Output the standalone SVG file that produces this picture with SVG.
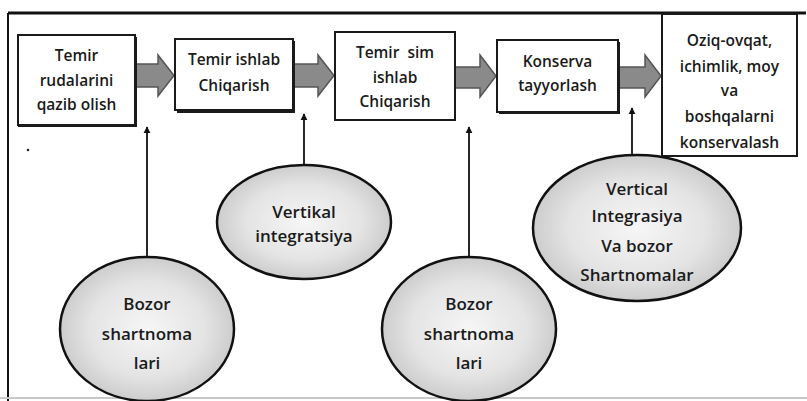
<svg xmlns="http://www.w3.org/2000/svg" width="807" height="401" viewBox="0 0 807 401">
<defs>
<radialGradient id="eg" cx="50%" cy="50%" r="55%">
<stop offset="0" stop-color="#f6f6f6"/>
<stop offset="0.6" stop-color="#e4e4e4"/>
<stop offset="1" stop-color="#c6c6c6"/>
</radialGradient>
<marker id="ah" viewBox="0 0 10 10" refX="9" refY="5" markerWidth="7" markerHeight="12" markerUnits="userSpaceOnUse" orient="auto">
<path d="M0,0 L10,5 L0,10 z" fill="#111"/>
</marker>
</defs>
<style>
.box{fill:#fff;stroke:#1a1a1a;stroke-width:2}
.shadow{fill:#1a1a1a}
.bt{font-family:"Open Sans","Noto Sans",sans-serif;font-size:15.5px;font-weight:600;fill:#1a1a1a;text-anchor:middle}
.et{font-family:"Open Sans","Noto Sans",sans-serif;font-size:17px;font-weight:600;fill:#1a1a1a;text-anchor:middle}
.ell{fill:url(#eg);stroke:#111;stroke-width:2.5}
.blk{fill:#8a8a8a;stroke:#555;stroke-width:1.5}
.con{stroke:#111;stroke-width:1.8;fill:none;marker-end:url(#ah)}
</style>
<rect width="807" height="401" fill="#fff"/>
<g id="frame">
<line x1="8" y1="13" x2="806" y2="13" stroke="#111" stroke-width="3"/>
<line x1="8" y1="13" x2="8" y2="401" stroke="#111" stroke-width="2"/>
<line x1="0" y1="398" x2="807" y2="398" stroke="#c8c8c8" stroke-width="2"/>
<circle cx="28" cy="150" r="1.3" fill="#222"/>
</g>
<g id="connectors">
<path class="blk" d="M135,64 H158 V55 L174,75.5 L158,96 V87 H135 Z"/>
<path class="blk" d="M293,64 H318 V55 L334,75.5 L318,96 V87 H293 Z"/>
<path class="blk" d="M455,67 H480 V55 L496,76 L480,97 V88 H455 Z"/>
<path class="blk" d="M618,67 H645 V55 L661,76 L645,97 V88 H618 Z"/>
<line class="con" x1="147" y1="256" x2="147" y2="127"/>
<line class="con" x1="304" y1="164" x2="304" y2="114"/>
<line class="con" x1="469" y1="256" x2="469" y2="127"/>
<line class="con" x1="632" y1="155" x2="632" y2="108"/>
</g>
<g id="n1">
<rect class="shadow" x="18" y="37" width="119" height="90"/>
<rect class="box" x="18" y="35" width="117" height="90"/>
<text class="bt" x="76.5" y="61">Temir</text>
<text class="bt" x="76.5" y="86">rudalarini</text>
<text class="bt" x="76.5" y="110">qazib olish</text>
</g>
<g id="n2">
<rect class="shadow" x="177" y="41" width="118" height="72"/>
<rect class="box" x="175" y="39" width="118" height="71"/>
<text class="bt" x="234" y="65">Temir ishlab</text>
<text class="bt" x="234" y="91">Chiqarish</text>
</g>
<g id="n3">
<rect class="box" x="335" y="32" width="120" height="88"/>
<text class="bt" x="395" y="58" xml:space="preserve">Temir  sim</text>
<text class="bt" x="395" y="83">ishlab</text>
<text class="bt" x="395" y="107">Chiqarish</text>
</g>
<g id="n4">
<rect class="shadow" x="499" y="42" width="121" height="72"/>
<rect class="box" x="497" y="40" width="121" height="72"/>
<text class="bt" x="557.5" y="67">Konserva</text>
<text class="bt" x="557.5" y="91">tayyorlash</text>
</g>
<g id="n5">
<rect class="box" x="662" y="14" width="135" height="142"/>
<text class="bt" x="729.5" y="46">Oziq-ovqat,</text>
<text class="bt" x="729.5" y="71.5">ichimlik, moy</text>
<text class="bt" x="729.5" y="96">va</text>
<text class="bt" x="729.5" y="122">boshqalarni</text>
<text class="bt" x="729.5" y="148">konservalash</text>
</g>
<g id="e1">
<ellipse class="ell" cx="147" cy="329" rx="87" ry="72"/>
<text class="et" x="147" y="310">Bozor</text>
<text class="et" x="147" y="340">shartnoma</text>
<text class="et" x="147" y="369">lari</text>
</g>
<g id="e2">
<ellipse class="ell" cx="304" cy="222" rx="87" ry="57"/>
<text class="et" x="304" y="218">Vertikal</text>
<text class="et" x="304" y="242">integratsiya</text>
</g>
<g id="e3">
<ellipse class="ell" cx="469" cy="329" rx="87" ry="72"/>
<text class="et" x="469" y="310">Bozor</text>
<text class="et" x="469" y="340">shartnoma</text>
<text class="et" x="469" y="369">lari</text>
</g>
<g id="e4">
<ellipse class="ell" cx="637" cy="228" rx="104" ry="73"/>
<text class="et" x="637" y="195">Vertical</text>
<text class="et" x="637" y="222">Integrasiya</text>
<text class="et" x="637" y="252">Va bozor</text>
<text class="et" x="637" y="281">Shartnomalar</text>
</g>
</svg>
